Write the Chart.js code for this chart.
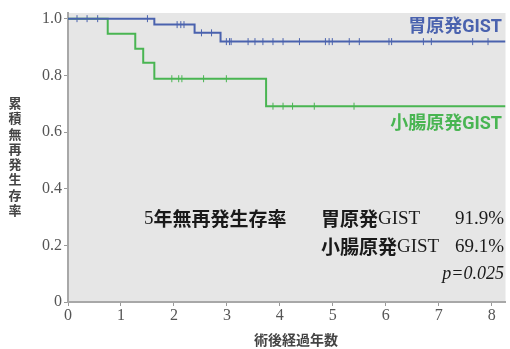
<!DOCTYPE html>
<html>
<head>
<meta charset="utf-8">
<script src="https://cdn.jsdelivr.net/npm/chart.js@4.4.1/dist/chart.umd.min.js"></script>
<style>
  html, body { margin: 0; background: #fff; }
</style>
</head>
<body>
<canvas id="chart" width="510" height="349"></canvas>
<script>
// Kaplan-Meier steps (years, survival)
const stomachTimes = [0, 1.63, 2.39, 2.88, 8.26];
const stomachSurv = [1.0, 0.979, 0.95, 0.919, 0.919];
const stomachCensor = [0.17, 0.36, 0.56, 1.50, 2.06, 2.13, 2.19, 2.52, 2.71, 2.99, 3.05, 3.08,
  3.40, 3.53, 3.68, 3.87, 4.06, 4.37, 4.86, 4.93, 4.99, 5.31, 5.50, 6.06, 6.11, 6.71, 6.86, 7.64, 7.93];

const smallTimes = [0, 0.75, 1.27, 1.42, 1.63, 3.74, 8.26];
const smallSurv = [1.0, 0.947, 0.894, 0.844, 0.788, 0.691, 0.691];
const smallCensor = [1.96, 2.09, 2.15, 2.56, 2.99, 3.87, 4.06, 4.24, 4.65, 5.40];

const xTicks = [0, 1, 2, 3, 4, 5, 6, 7, 8];
const yTicks = [0, 0.2, 0.4, 0.6, 0.8, 1.0];
const yTickLabels = ['0', '0.2', '0.4', '0.6', '0.8', '1.0'];

const BLUE = '#4a62ae';
const GREEN = '#49b552';

// survival value of a step curve at time t (for placing censor ticks on the curve)
function survAt(times, surv, t) {
  let s = surv[0];
  for (let i = 0; i < times.length; i++) if (times[i] <= t) s = surv[i];
  return s;
}

const toPoints = (xs, ys) => xs.map((x, i) => ({ x: x, y: ys[i] }));
const censorPoints = (cs, times, surv) => cs.map(t => ({ x: t, y: survAt(times, surv, t) }));

const plotBg = {
  id: 'plotBg',
  beforeDraw(chart) {
    const { ctx, chartArea: a } = chart;
    ctx.save();
    ctx.fillStyle = '#e6e6e6';
    ctx.fillRect(a.left, a.top, a.right - a.left, a.bottom - a.top);
    ctx.restore();
  }
};

const JP = 'bold 19px "Noto Sans CJK JP"';
const LAT = '19px "Liberation Serif"';

// draw text pieces with different fonts one after another, starting at x
function drawRuns(ctx, runs, x, y) {
  runs.forEach(r => {
    ctx.font = r[1];
    ctx.fillText(r[0], x, y);
    x += ctx.measureText(r[0]).width;
  });
}

const texts = {
  id: 'texts',
  afterDraw(chart) {
    const ctx = chart.ctx;
    ctx.save();
    // axis titles
    ctx.fillStyle = '#444';
    ctx.font = 'bold 13px "Noto Sans CJK JP"';
    ctx.textAlign = 'center';
    ctx.textBaseline = 'middle';
    const yTitle = '累積無再発生存率';
    for (let i = 0; i < yTitle.length; i++) ctx.fillText(yTitle[i], 15, 103 + i * 15.3);
    ctx.font = 'bold 14px "Noto Sans CJK JP"';
    ctx.fillText('術後経過年数', 296, 340);

    // curve labels
    ctx.font = 'bold 18px Roboto, "Noto Sans CJK JP"';
    ctx.textAlign = 'right';
    ctx.fillStyle = BLUE;
    ctx.fillText('胃原発GIST', 502, 27);
    ctx.fillStyle = GREEN;
    ctx.fillText('小腸原発GIST', 502, 124);

    // summary block
    ctx.fillStyle = '#1a1a1a';
    ctx.textAlign = 'left';
    drawRuns(ctx, [['5', LAT], ['年無再発生存率', JP]], 144, 219);
    drawRuns(ctx, [['胃原発', JP], ['GIST', LAT]], 321, 219);
    drawRuns(ctx, [['小腸原発', JP], ['GIST', LAT]], 321, 247);
    ctx.textAlign = 'right';
    ctx.font = LAT;
    ctx.fillText('91.9%', 504, 219);
    ctx.fillText('69.1%', 504, 247);
    ctx.font = 'italic 18px "Liberation Serif"';
    ctx.fillText('p=0.025', 504, 274);
    ctx.restore();
  }
};

const censorStyle = {
  type: 'scatter',
  pointStyle: 'line',
  rotation: 90,
  pointRadius: 3.5,
  pointBorderWidth: 1,
  pointHoverRadius: 3.5
};

new Chart(document.getElementById('chart'), {
  type: 'line',
  data: {
    datasets: [
      { data: toPoints(stomachTimes, stomachSurv), borderColor: BLUE, borderWidth: 2, stepped: true, pointRadius: 0 },
      { data: toPoints(smallTimes, smallSurv), borderColor: GREEN, borderWidth: 2, stepped: true, pointRadius: 0 },
      Object.assign({ data: censorPoints(stomachCensor, stomachTimes, stomachSurv), borderColor: BLUE, backgroundColor: BLUE }, censorStyle),
      Object.assign({ data: censorPoints(smallCensor, smallTimes, smallSurv), borderColor: GREEN, backgroundColor: GREEN }, censorStyle)
    ]
  },
  options: {
    responsive: false,
    animation: false,
    devicePixelRatio: 1,
    layout: { padding: { top: 13, right: 0, left: 0, bottom: 0 } },
    plugins: { legend: { display: false }, tooltip: { enabled: false } },
    scales: {
      x: {
        type: 'linear',
        min: 0,
        max: 8.26,
        afterBuildTicks: s => { s.ticks = xTicks.map(v => ({ value: v })); },
        afterFit: s => { s.height = 47; },
        ticks: { color: '#555', font: { family: 'Liberation Serif', size: 16 }, padding: 0, callback: v => String(v) },
        grid: { drawOnChartArea: false, tickLength: 4, color: '#999' },
        border: { color: '#a8a8a8', width: 2 }
      },
      y: {
        min: 0,
        max: 1.02,
        afterBuildTicks: s => { s.ticks = yTicks.map(v => ({ value: v })); },
        afterFit: s => { s.width = 68; },
        ticks: { color: '#555', font: { family: 'Liberation Serif', size: 16 }, padding: 2, callback: (v, i) => yTickLabels[i] },
        grid: { drawOnChartArea: false, tickLength: 4, color: '#999' },
        border: { color: '#a8a8a8', width: 2 }
      }
    }
  },
  plugins: [plotBg, texts]
});
</script>
</body>
</html>
